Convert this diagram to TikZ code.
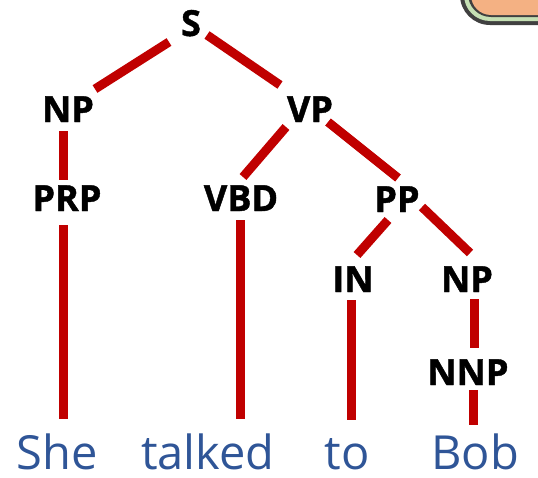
\documentclass[tikz,border=0pt]{standalone}
\usepackage{fontspec}
\setmainfont{Open Sans}
\newfontfamily\tagfont[FakeBold=1.2]{Open Sans Bold}
\usetikzlibrary{calc}
\definecolor{branch}{HTML}{C00000}
\definecolor{wordblue}{HTML}{2F5597}
\definecolor{rimgray}{HTML}{404040}
\definecolor{rimgreen}{HTML}{C5E0B4}
\definecolor{panelfill}{HTML}{F4B183}
\tikzset{
  tag/.style={anchor=base, inner sep=0pt, font=\fontsize{36}{40}\tagfont, text=black},
  word/.style={anchor=base, inner sep=0pt, text depth=0pt, font=\fontsize{47}{52}\selectfont, text=wordblue},
  edge/.style={draw=branch, line width=9pt, line cap=butt},
}
\begin{document}
\begin{tikzpicture}[x=1pt, y=-1pt]
\useasboundingbox (0,0) rectangle (538,477);
\begin{scope}
  \clip (0,0) rectangle (538,477);
  % corner of a framed panel peeking in at the top right
  \fill[rimgray, rounded corners=30pt] (460,-80) rectangle (620,25);
  \fill[rimgreen, rounded corners=26pt] (464,-80) rectangle (620,21);
  \fill[rimgray, rounded corners=23pt] (468,-80) rectangle (620,17);
  \fill[panelfill, rounded corners=20pt] (471,-80) rectangle (620,15);
\end{scope}

% constituent labels
\node[tag] (s)   at (191,36)  {S};
\node[tag] (np)  at (68,122)  {NP};
\node[tag] (vp)  at (310,122) {VP};
\node[tag] (prp) at (67,211)  {PRP};
\node[tag] (vbd) at (241,211) {VBD};
\node[tag] (pp)  at (397,212) {PP};
\node[tag] (in)  at (353,292) {IN};
\node[tag] (npb) at (467,292) {NP};
\node[tag] (nnp) at (468,385) {NNP};

% words of the sentence
\node[word] (she)    at (57,469)  {She};
\node[word] (talked) at (208,469) {talked};
\node[word] (to)     at (347,469) {to};
\node[word] (bob)    at (475,469) {Bob};

% branches, each from just below the parent to just above the child
\draw[edge] ($(s.base)+(-22,6)$)   -- ($(np.base)+(27,-33)$);
\draw[edge] ($(s.base)+(16,-1)$)   -- ($(vp.base)+(-30,-37)$);
\draw[edge] ($(np.base)+(-5,9)$)   -- ($(prp.base)+(-4,-31)$);
\draw[edge] ($(vp.base)+(-24,5)$)  -- ($(vbd.base)+(2,-34)$);
\draw[edge] ($(vp.base)+(18,0)$)   -- ($(pp.base)+(1,-34)$);
\draw[edge] ($(prp.base)+(-4,14)$) -- ($(she.base)+(6,-50)$);
\draw[edge] ($(vbd.base)+(-1,9)$)  -- ($(talked.base)+(32,-50)$);
\draw[edge] ($(pp.base)+(-9,8)$)   -- ($(in.base)+(4,-37)$);
\draw[edge] ($(pp.base)+(25,-5)$)  -- ($(npb.base)+(3,-39)$);
\draw[edge] ($(in.base)+(-2,8)$)   -- ($(to.base)+(4,-49)$);
\draw[edge] ($(npb.base)+(7,7)$)   -- ($(nnp.base)+(6,-37)$);
\draw[edge] ($(nnp.base)+(5,5)$)   -- ($(bob.base)+(-2,-44)$);
\end{tikzpicture}
\end{document}
